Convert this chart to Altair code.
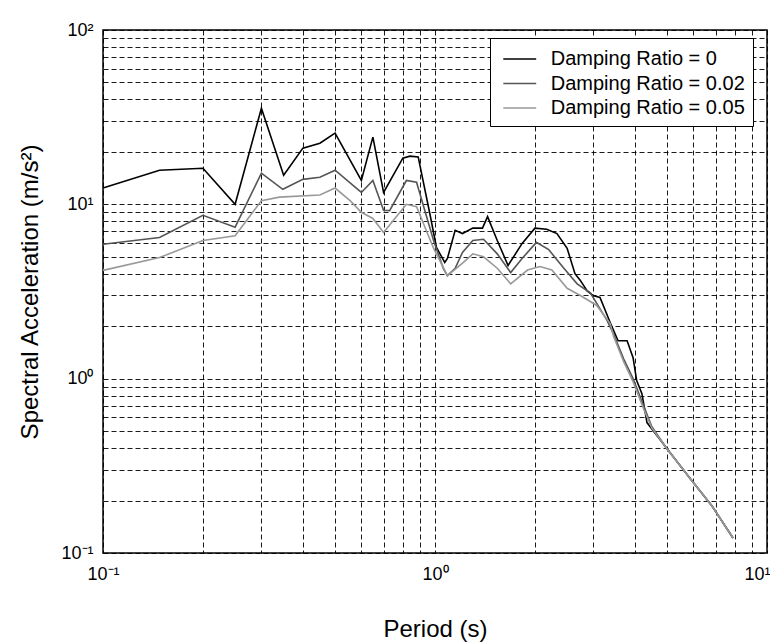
import altair as alt
import pandas as pd

# Damping ratio = 0
T0 = [0.1, 0.148, 0.2, 0.25, 0.3, 0.35, 0.4, 0.45, 0.5, 0.6, 0.65, 0.7, 0.8, 0.84, 0.89,
      0.97, 1.01, 1.07, 1.09, 1.15, 1.21, 1.30, 1.39, 1.44, 1.54, 1.66, 1.83, 2.0, 2.17,
      2.33, 2.5, 2.64, 2.74, 2.87, 2.99, 3.14, 3.37, 3.56, 3.79, 3.95, 4.05, 4.2, 4.35,
      5.0, 5.94, 6.83, 7.9]
SA0 = [12.4, 15.7, 16.1, 10.0, 35.6, 14.7, 21.0, 22.4, 25.6, 13.7, 24.3, 11.7, 18.4, 18.9, 18.7,
       8.4, 5.66, 4.64, 4.9, 7.1, 6.8, 7.3, 7.3, 8.5, 6.2, 4.46, 5.97, 7.3, 7.2,
       6.8, 5.6, 4.0, 3.66, 3.2, 3.0, 2.92, 2.1, 1.65, 1.65, 1.32, 0.975, 0.82, 0.56,
       0.396, 0.26, 0.186, 0.122]

# Damping ratio = 0.02
T2 = [0.1, 0.148, 0.2, 0.25, 0.3, 0.348, 0.4, 0.45, 0.5, 0.6, 0.65, 0.7, 0.73, 0.82, 0.88,
      0.99, 1.06, 1.09, 1.15, 1.21, 1.30, 1.40, 1.54, 1.69, 1.84, 2.02, 2.2, 2.43, 2.68,
      2.94, 3.3, 3.45, 3.7, 3.95, 4.25, 4.5, 5.0, 5.94, 6.83, 7.9]
SA2 = [5.9, 6.45, 8.65, 7.4, 15.1, 12.2, 13.9, 14.3, 15.7, 11.7, 13.7, 9.25, 9.2, 13.7, 13.4,
       6.2, 4.28, 3.9, 4.3, 5.3, 6.2, 6.3, 5.2, 4.06, 4.95, 6.05, 5.5, 4.35, 3.5,
       3.1, 2.15, 1.8, 1.3, 1.0, 0.7, 0.53, 0.395, 0.26, 0.186, 0.122]

# Damping ratio = 0.05
T5 = [0.1, 0.148, 0.2, 0.25, 0.3, 0.34, 0.45, 0.5, 0.555, 0.6, 0.65, 0.7, 0.75, 0.82, 0.88,
      0.99, 1.09, 1.21, 1.30, 1.40, 1.54, 1.69, 1.9, 2.07, 2.25, 2.5, 2.74, 3.07, 3.37,
      3.45, 3.7, 3.95, 4.25, 4.5, 5.0, 5.94, 6.83, 7.9]
SA5 = [4.18, 4.95, 6.2, 6.6, 10.5, 11.0, 11.3, 12.4, 10.5, 9.0, 8.3, 6.9, 8.1, 10.0, 9.7,
       5.6, 3.9, 4.6, 5.2, 5.0, 4.3, 3.5, 4.2, 4.4, 4.2, 3.3, 3.0, 2.63, 2.07,
       1.75, 1.25, 0.96, 0.67, 0.52, 0.395, 0.26, 0.186, 0.122]

SERIES = ["Damping Ratio = 0", "Damping Ratio = 0.02", "Damping Ratio = 0.05"]
COLORS = ["#000000", "#555555", "#999999"]

X_TICKS = [0.1, 0.2, 0.3, 0.4, 0.5, 0.6, 0.7, 0.8, 0.9,
           1, 2, 3, 4, 5, 6, 7, 8, 9, 10]
Y_TICKS = [0.1, 0.2, 0.3, 0.4, 0.5, 0.6, 0.7, 0.8, 0.9,
           1, 2, 3, 4, 5, 6, 7, 8, 9,
           10, 20, 30, 40, 50, 60, 70, 80, 90, 100]

frames = []
for name, ts, vs in zip(SERIES, [T0, T2, T5], [SA0, SA2, SA5]):
    frames.append(pd.DataFrame({"T": ts, "SA": vs, "series": name,
                                "idx": range(len(ts))}))
df = pd.concat(frames, ignore_index=True)

FONT = "Liberation Sans"

x_label = ("datum.value == 0.1 ? '10⁻¹' : datum.value == 1 ? '10⁰' : "
           "datum.value == 10 ? '10¹' : ''")
y_label = ("datum.value == 0.1 ? '10⁻¹' : datum.value == 1 ? '10⁰' : "
           "datum.value == 10 ? '10¹' : datum.value == 100 ? '10²' : ''")

chart = alt.Chart(df).mark_line(strokeWidth=1.6).encode(
    x=alt.X("T:Q",
            scale=alt.Scale(type="log", domain=[0.1, 10], nice=False),
            axis=alt.Axis(values=X_TICKS, labelExpr=x_label, title="Period (s)",
                          labelOverlap=False, labelPadding=12, titlePadding=34,
                          labelOffset={"expr": "datum.value == 10 ? -10 : 0"})),
    y=alt.Y("SA:Q",
            scale=alt.Scale(type="log", domain=[0.1, 100], nice=False),
            axis=alt.Axis(values=Y_TICKS, labelExpr=y_label,
                          title="Spectral Acceleration (m/s²)",
                          labelOverlap=False, labelPadding=10, titlePadding=18)),
    color=alt.Color("series:N",
                    scale=alt.Scale(domain=SERIES, range=COLORS),
                    legend=alt.Legend(orient="none", legendX=387, legendY=8,
                                      title=None, strokeColor="black",
                                      fillColor="white", padding=8,
                                      symbolType="M-1.4,0H1.4", symbolSize=552,
                                      symbolStrokeWidth=1.6, symbolOffset=8.75,
                                      labelFont=FONT, labelFontSize=20,
                                      labelColor="black", labelOffset=18,
                                      labelLimit=400, rowPadding=1.5)),
    order="idx:Q",
).properties(
    width=664, height=523,
    background="white",
    autosize=alt.AutoSizeParams(type="none"),
    padding={"left": 95, "top": 22, "right": 3, "bottom": 91},
).configure_view(
    stroke="black", strokeWidth=1.5, fill="white"
).configure_axis(
    domain=False, ticks=False,
    grid=True, gridColor="black", gridDash=[5, 3], gridWidth=0.9, gridOpacity=1,
    labelFont=FONT, labelFontSize=18, labelColor="black",
    titleFont=FONT, titleFontSize=24, titleFontWeight="normal", titleColor="black",
    labelBound=False, labelFlush=False,
)

chart.save("out.html", embed_options={"renderer": "svg", "actions": False})
